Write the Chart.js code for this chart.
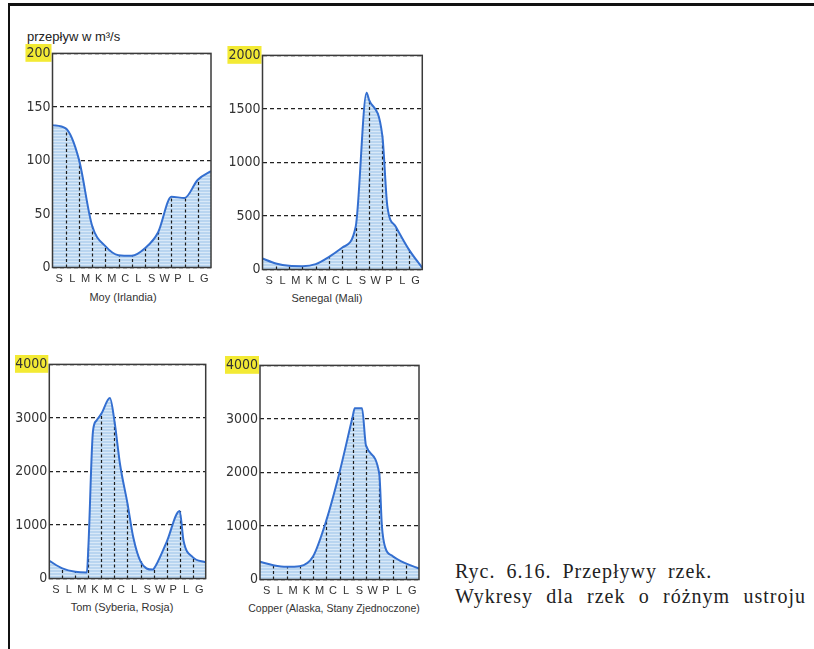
<!DOCTYPE html>
<html lang="pl">
<head>
<meta charset="UTF-8">
<title>Przepływy rzek</title>
<script src="https://cdn.jsdelivr.net/npm/chart.js"></script>
<style>
  body { margin: 0; width: 814px; height: 649px; position: relative; overflow: hidden; background: #fff;
         font-family: "Liberation Sans", Arial, sans-serif; color: #333; }
  .frame { position: absolute; left: 8px; top: 3px; right: -5px; bottom: -5px; border-top: 3px solid #111; border-left: 2px solid #111; }
  .plot { position: absolute; }
  .cap { position: absolute; width: 240px; text-align: center; font-size: 11px; line-height: 14px; color: #333; }
  .unit { position: absolute; left: 27px; top: 29px; font-size: 13px; color: #222; }
  .ryc { position: absolute; left: 455px; width: 351px; font-family: "Liberation Serif", "Times New Roman", serif;
         font-size: 20px; line-height: 25px; color: #222; letter-spacing: 1px; white-space: nowrap; }
  .ryc.l1 { top: 559px; word-spacing: 5px; }
  .ryc.l2 { top: 584px; text-align: justify; text-align-last: justify; white-space: normal; }
</style>
</head>
<body>
<div class="frame"></div>
<div class="unit">przepływ w m³/s</div>

<div class="plot" style="left:20px;top:43px;width:195px;height:242px"><canvas id="moy" width="195" height="242"></canvas></div>
<div class="plot" style="left:225px;top:45px;width:200px;height:242px"><canvas id="senegal" width="200" height="242"></canvas></div>
<div class="plot" style="left:15px;top:354px;width:195px;height:242px"><canvas id="tom" width="195" height="242"></canvas></div>
<div class="plot" style="left:225px;top:355px;width:198px;height:242px"><canvas id="copper" width="198" height="242"></canvas></div>

<div class="cap" style="left:3px;top:290px">Moy (Irlandia)</div>
<div class="cap" style="left:207px;top:291px">Senegal (Mali)</div>
<div class="cap" style="left:2px;top:600px">Tom (Syberia, Rosja)</div>
<div class="cap" style="left:214px;top:601px;font-size:10.5px">Copper (Alaska, Stany Zjednoczone)</div>

<div class="ryc l1">Ryc. 6.16. Przepływy rzek.</div>
<div class="ryc l2">Wykresy dla rzek o różnym ustroju</div>

<script>
// months (tick labels, placed in the middle of each month)
const months = ["S", "L", "M", "K", "M", "C", "L", "S", "W", "P", "L", "G"];

// positions are in months from the left edge (0 = start of S, 12 = end of G)
const moyPos  = [0, 1, 2, 3, 4, 5, 6, 7, 8, 9, 10, 11, 12];
const moyFlow = [133, 130, 101, 39, 20, 11.5, 11, 18, 33, 66, 65, 82, 90];

const senegalPos  = [0, 1, 2, 3, 4, 5, 6, 7, 7.82, 8, 9, 9.38, 10, 11, 12];
const senegalFlow = [103, 56, 34, 31, 50, 118, 205, 400, 1650, 1585, 1250, 588, 402, 186, 15];

const tomPos  = [0, 1, 2, 2.88, 3, 3.35, 3.62, 4, 4.65, 5, 5.43, 6, 6.45, 7, 7.93, 8, 9, 10, 10.3, 11, 12];
const tomFlow = [330, 190, 125, 112, 600, 2750, 2950, 3080, 3370, 2940, 2130, 1400, 760, 320, 166, 175, 680, 1260, 706, 400, 300];

const copperPos  = [0, 1, 2, 3, 4, 5, 6, 7, 7.15, 7.7, 8, 9, 9.2, 9.45, 10, 11, 12];
const copperFlow = [330, 267, 236, 249, 430, 1100, 2000, 3050, 3200, 3200, 2500, 1980, 1000, 600, 440, 300, 205];

const axisFont = { family: '"Liberation Sans Narrow", "DejaVu Sans Condensed", sans-serif', size: 14 };
const monthFont = { family: '"Liberation Sans", Arial, sans-serif', size: 11 };

// dashed lines from the bottom up to the curve at every month boundary
const dropLines = {
    id: "dropLines",
    beforeDatasetDraw(chart) {
        const { ctx, scales: { x, y } } = chart;
        const pts = chart.data.datasets[0].data;
        ctx.save();
        ctx.strokeStyle = "#1c1c1c";
        ctx.lineWidth = 1.2;
        ctx.setLineDash([3, 2.5]);
        pts.forEach(p => {
            if (Number.isInteger(p.x) && p.x > 0 && p.x < 12) {
                const px = Math.round(x.getPixelForValue(p.x)) + 0.5;
                ctx.beginPath();
                ctx.moveTo(px, y.getPixelForValue(0));
                ctx.lineTo(px, y.getPixelForValue(p.y));
                ctx.stroke();
            }
        });
        ctx.restore();
    },
    afterDraw(chart) {
        const { ctx, chartArea: a } = chart;
        ctx.save();
        ctx.strokeStyle = "#3a3a3a";
        ctx.lineWidth = 1.5;
        ctx.strokeRect(a.left, a.top, a.right - a.left, a.bottom - a.top);
        ctx.restore();
    }
};

function stripes(ctx) {
    const c = document.createElement("canvas");
    c.width = 4; c.height = 3;
    const g = c.getContext("2d");
    g.fillStyle = "#b9d5f0";
    g.fillRect(0, 0, 4, 3);
    g.fillStyle = "#d9e9f8";
    g.fillRect(0, 2, 4, 1);
    return ctx.createPattern(c, "repeat");
}

function makeChart(id, pos, flow, yMax, step, yWidth, padRight) {
    const canvas = document.getElementById(id);
    const ctx = canvas.getContext("2d");
    return new Chart(ctx, {
        type: "line",
        data: {
            datasets: [{
                data: pos.map((p, i) => ({ x: p, y: flow[i] })),
                borderColor: "#346fd0",
                borderWidth: 2,
                backgroundColor: stripes(ctx),
                fill: "origin",
                pointRadius: 0,
                cubicInterpolationMode: "monotone"
            }]
        },
        options: {
            responsive: false,
            animation: false,
            layout: { padding: { top: 10, right: padRight, left: 0, bottom: 0 } },
            plugins: { legend: { display: false }, tooltip: { enabled: false } },
            scales: {
                x: {
                    type: "linear", min: 0, max: 12,
                    afterBuildTicks: s => { s.ticks = months.map((m, i) => ({ value: i + 0.5 })); },
                    afterFit: s => { s.height = 17.5; },
                    ticks: {
                        autoSkip: false, maxRotation: 0, padding: 5,
                        color: "#333", font: monthFont,
                        callback: (v, i) => months[i]
                    },
                    grid: { display: false, drawTicks: false, tickLength: 0 },
                    border: { display: false }
                },
                y: {
                    min: 0, max: yMax,
                    afterFit: s => { s.width = yWidth; },
                    ticks: {
                        stepSize: step, padding: 2, color: "#333", font: axisFont,
                        callback: v => String(v),
                        showLabelBackdrop: c => c.tick.value === yMax,
                        backdropColor: "#f3ea34",
                        backdropPadding: { top: 1, bottom: 0, left: 1, right: 1 }
                    },
                    grid: { color: "#222", lineWidth: 1.2, drawTicks: false },
                    border: { display: false, dash: [4, 3] }
                }
            }
        },
        plugins: [dropLines]
    });
}

makeChart("moy", moyPos, moyFlow, 200, 50, 32.5, 4);
makeChart("senegal", senegalPos, senegalFlow, 2000, 500, 37.5, 2.5);
makeChart("tom", tomPos, tomFlow, 4000, 1000, 34.3, 4.3);
makeChart("copper", copperPos, copperFlow, 4000, 1000, 35, 4);
</script>
</body>
</html>
